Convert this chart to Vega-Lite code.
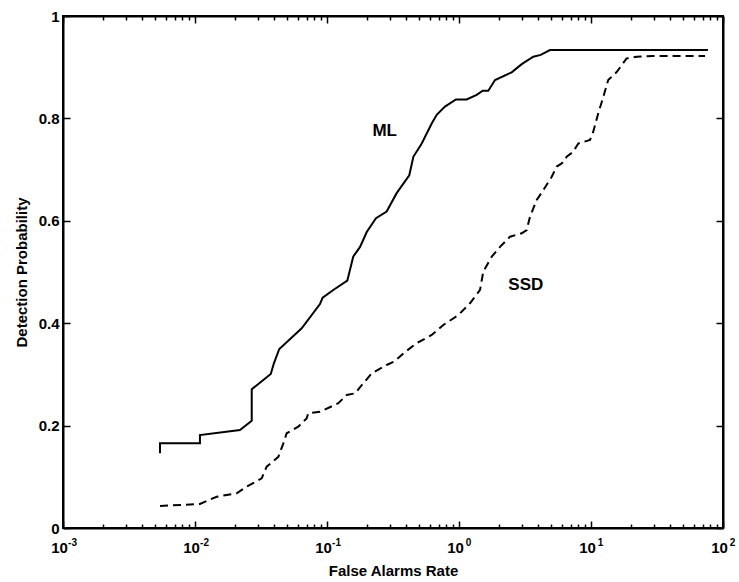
{
  "$schema": "https://vega.github.io/schema/vega-lite/v6.json",
  "width": 660,
  "height": 512,
  "autosize": {"type": "none"},
  "padding": {"left": 63, "top": 16, "right": 16, "bottom": 54},
  "background": "white",
  "config": {
    "view": {"stroke": "black", "strokeWidth": 2},
    "axis": {
      "grid": false,
      "domainColor": "black",
      "domainWidth": 2,
      "tickColor": "black",
      "tickWidth": 1.5,
      "labelColor": "black",
      "labelFont": "Liberation Sans, DejaVu Sans, sans-serif",
      "labelFontWeight": "bold",
      "labelFontSize": 15,
      "titleColor": "black",
      "titleFont": "Liberation Sans, DejaVu Sans, sans-serif",
      "titleFontWeight": "bold",
      "titleFontSize": 15,
      "labelOverlap": false,
      "labelFlush": false
    }
  },
  "data": {
    "values": [
      {"series": "ML", "i": 1, "x": 0.00543, "y": 0.146},
      {"series": "ML", "i": 2, "x": 0.00543, "y": 0.1654},
      {"series": "ML", "i": 3, "x": 0.0109, "y": 0.1654},
      {"series": "ML", "i": 4, "x": 0.0109, "y": 0.1816},
      {"series": "ML", "i": 5, "x": 0.0219, "y": 0.1914},
      {"series": "ML", "i": 6, "x": 0.0269, "y": 0.2096},
      {"series": "ML", "i": 7, "x": 0.0269, "y": 0.2709},
      {"series": "ML", "i": 8, "x": 0.0375, "y": 0.3008},
      {"series": "ML", "i": 9, "x": 0.0396, "y": 0.3217},
      {"series": "ML", "i": 10, "x": 0.0435, "y": 0.3496},
      {"series": "ML", "i": 11, "x": 0.0643, "y": 0.39},
      {"series": "ML", "i": 12, "x": 0.0885, "y": 0.4375},
      {"series": "ML", "i": 13, "x": 0.0927, "y": 0.4498},
      {"series": "ML", "i": 14, "x": 0.1116, "y": 0.4648},
      {"series": "ML", "i": 15, "x": 0.1425, "y": 0.483},
      {"series": "ML", "i": 16, "x": 0.158, "y": 0.53},
      {"series": "ML", "i": 17, "x": 0.178, "y": 0.549},
      {"series": "ML", "i": 18, "x": 0.2, "y": 0.578},
      {"series": "ML", "i": 19, "x": 0.235, "y": 0.605},
      {"series": "ML", "i": 20, "x": 0.283, "y": 0.618},
      {"series": "ML", "i": 21, "x": 0.337, "y": 0.654},
      {"series": "ML", "i": 22, "x": 0.42, "y": 0.689},
      {"series": "ML", "i": 23, "x": 0.451, "y": 0.725},
      {"series": "ML", "i": 24, "x": 0.522, "y": 0.751},
      {"series": "ML", "i": 25, "x": 0.621, "y": 0.79},
      {"series": "ML", "i": 26, "x": 0.678, "y": 0.807},
      {"series": "ML", "i": 27, "x": 0.783, "y": 0.823},
      {"series": "ML", "i": 28, "x": 0.948, "y": 0.837},
      {"series": "ML", "i": 29, "x": 1.143, "y": 0.837},
      {"series": "ML", "i": 30, "x": 1.361, "y": 0.846},
      {"series": "ML", "i": 31, "x": 1.513, "y": 0.854},
      {"series": "ML", "i": 32, "x": 1.667, "y": 0.854},
      {"series": "ML", "i": 33, "x": 1.874, "y": 0.875},
      {"series": "ML", "i": 34, "x": 2.506, "y": 0.89},
      {"series": "ML", "i": 35, "x": 2.986, "y": 0.906},
      {"series": "ML", "i": 36, "x": 3.655, "y": 0.9205},
      {"series": "ML", "i": 37, "x": 4.159, "y": 0.924},
      {"series": "ML", "i": 38, "x": 4.89, "y": 0.9336},
      {"series": "ML", "i": 39, "x": 76.9, "y": 0.9336},
      {"series": "SSD", "i": 1, "x": 0.00543, "y": 0.043},
      {"series": "SSD", "i": 2, "x": 0.0109, "y": 0.047},
      {"series": "SSD", "i": 3, "x": 0.0146, "y": 0.0611},
      {"series": "SSD", "i": 4, "x": 0.0207, "y": 0.0678},
      {"series": "SSD", "i": 5, "x": 0.0246, "y": 0.0807},
      {"series": "SSD", "i": 6, "x": 0.032, "y": 0.097},
      {"series": "SSD", "i": 7, "x": 0.0349, "y": 0.1197},
      {"series": "SSD", "i": 8, "x": 0.0428, "y": 0.139},
      {"series": "SSD", "i": 9, "x": 0.0467, "y": 0.1654},
      {"series": "SSD", "i": 10, "x": 0.0495, "y": 0.185},
      {"series": "SSD", "i": 11, "x": 0.0606, "y": 0.198},
      {"series": "SSD", "i": 12, "x": 0.0701, "y": 0.214},
      {"series": "SSD", "i": 13, "x": 0.0721, "y": 0.224},
      {"series": "SSD", "i": 14, "x": 0.0885, "y": 0.227},
      {"series": "SSD", "i": 15, "x": 0.1218, "y": 0.2436},
      {"series": "SSD", "i": 16, "x": 0.141, "y": 0.2598},
      {"series": "SSD", "i": 17, "x": 0.163, "y": 0.263},
      {"series": "SSD", "i": 18, "x": 0.1834, "y": 0.279},
      {"series": "SSD", "i": 19, "x": 0.2182, "y": 0.302},
      {"series": "SSD", "i": 20, "x": 0.283, "y": 0.3184},
      {"series": "SSD", "i": 21, "x": 0.327, "y": 0.326},
      {"series": "SSD", "i": 22, "x": 0.379, "y": 0.341},
      {"series": "SSD", "i": 23, "x": 0.478, "y": 0.361},
      {"series": "SSD", "i": 24, "x": 0.621, "y": 0.377},
      {"series": "SSD", "i": 25, "x": 0.76, "y": 0.3965},
      {"series": "SSD", "i": 26, "x": 0.989, "y": 0.416},
      {"series": "SSD", "i": 27, "x": 1.211, "y": 0.439},
      {"series": "SSD", "i": 28, "x": 1.443, "y": 0.465},
      {"series": "SSD", "i": 29, "x": 1.528, "y": 0.501},
      {"series": "SSD", "i": 30, "x": 1.77, "y": 0.53},
      {"series": "SSD", "i": 31, "x": 2.045, "y": 0.549},
      {"series": "SSD", "i": 32, "x": 2.434, "y": 0.569},
      {"series": "SSD", "i": 33, "x": 2.986, "y": 0.5756},
      {"series": "SSD", "i": 34, "x": 3.258, "y": 0.582},
      {"series": "SSD", "i": 35, "x": 3.451, "y": 0.608},
      {"series": "SSD", "i": 36, "x": 3.879, "y": 0.6406},
      {"series": "SSD", "i": 37, "x": 4.35, "y": 0.66},
      {"series": "SSD", "i": 38, "x": 5.04, "y": 0.686},
      {"series": "SSD", "i": 39, "x": 5.5, "y": 0.706},
      {"series": "SSD", "i": 40, "x": 6.0, "y": 0.712},
      {"series": "SSD", "i": 41, "x": 6.54, "y": 0.725},
      {"series": "SSD", "i": 42, "x": 7.34, "y": 0.735},
      {"series": "SSD", "i": 43, "x": 8.01, "y": 0.751},
      {"series": "SSD", "i": 44, "x": 8.75, "y": 0.754},
      {"series": "SSD", "i": 45, "x": 9.83, "y": 0.758},
      {"series": "SSD", "i": 46, "x": 10.4, "y": 0.774},
      {"series": "SSD", "i": 47, "x": 11.35, "y": 0.81},
      {"series": "SSD", "i": 48, "x": 12.4, "y": 0.842},
      {"series": "SSD", "i": 49, "x": 13.5, "y": 0.875},
      {"series": "SSD", "i": 50, "x": 15.7, "y": 0.891},
      {"series": "SSD", "i": 51, "x": 17.1, "y": 0.904},
      {"series": "SSD", "i": 52, "x": 18.6, "y": 0.917},
      {"series": "SSD", "i": 53, "x": 22.2, "y": 0.9205},
      {"series": "SSD", "i": 54, "x": 29.6, "y": 0.922},
      {"series": "SSD", "i": 55, "x": 73.1, "y": 0.922}
    ]
  },
  "layer": [
    {
      "transform": [{"filter": "datum.series === 'ML'"}],
      "mark": {"type": "line", "color": "black", "strokeWidth": 2},
      "encoding": {
        "x": {
          "field": "x", "type": "quantitative",
          "scale": {"type": "log", "domain": [0.001, 100], "nice": false},
          "axis": {
            "orient": "bottom",
            "title": "False Alarms Rate",
            "titleBaseline": "alphabetic",
            "titleY": 47,
            "values": [0.001,0.002,0.003,0.004,0.005,0.006,0.007,0.008,0.009,0.01,0.02,0.03,0.04,0.05,0.06,0.07,0.08,0.09,0.1,0.2,0.3,0.4,0.5,0.6,0.7,0.8,0.9,1,2,3,4,5,6,7,8,9,10,20,30,40,50,60,70,80,90,100],
            "tickSize": {"condition": {"test": "abs(log(datum.value)/LN10 - round(log(datum.value)/LN10)) < 0.001", "value": -7}, "value": -4},
            "labelExpr": "abs(log(datum.value)/LN10 - round(log(datum.value)/LN10)) < 0.001 ? '10' : ''",
            "labelAlign": "center",
            "labelBaseline": "alphabetic",
            "labelPadding": 31,
            "labelOffset": -4
          }
        },
        "y": {
          "field": "y", "type": "quantitative",
          "scale": {"domain": [0, 1], "nice": false},
          "axis": {
            "orient": "left",
            "title": "Detection Probability",
            "titleBaseline": "alphabetic",
            "titleX": -37,
            "values": [0, 0.2, 0.4, 0.6, 0.8, 1],
            "tickSize": -7,
            "labelPadding": 11,
            "labelExpr": "datum.value == 0 ? '0' : datum.value == 1 ? '1' : format(datum.value, '.1f')"
          }
        },
        "order": {"field": "i", "type": "quantitative"}
      }
    },
    {
      "transform": [{"filter": "datum.series === 'SSD'"}],
      "mark": {"type": "line", "color": "black", "strokeWidth": 2, "strokeDash": [8, 5]},
      "encoding": {
        "x": {
          "field": "x", "type": "quantitative",
          "scale": {"type": "log", "domain": [0.001, 100], "nice": false},
          "axis": {
            "orient": "top",
            "title": null,
            "labels": false,
            "values": [0.001,0.002,0.003,0.004,0.005,0.006,0.007,0.008,0.009,0.01,0.02,0.03,0.04,0.05,0.06,0.07,0.08,0.09,0.1,0.2,0.3,0.4,0.5,0.6,0.7,0.8,0.9,1,2,3,4,5,6,7,8,9,10,20,30,40,50,60,70,80,90,100],
            "tickSize": {"condition": {"test": "abs(log(datum.value)/LN10 - round(log(datum.value)/LN10)) < 0.001", "value": -7}, "value": -4}
          }
        },
        "y": {
          "field": "y", "type": "quantitative",
          "scale": {"domain": [0, 1], "nice": false},
          "axis": {
            "orient": "right",
            "title": null,
            "labels": false,
            "values": [0, 0.2, 0.4, 0.6, 0.8, 1],
            "tickSize": -7
          }
        },
        "order": {"field": "i", "type": "quantitative"}
      }
    },
    {
      "data": {"values": [
        {"label": "ML", "x": 0.2735, "y": 0.775},
        {"label": "SSD", "x": 3.21, "y": 0.475}
      ]},
      "mark": {"type": "text", "font": "Liberation Sans, DejaVu Sans, sans-serif", "fontWeight": "bold", "fontSize": 17, "color": "black", "align": "center", "baseline": "middle"},
      "encoding": {
        "x": {
          "field": "x", "type": "quantitative",
          "scale": {"type": "log", "domain": [0.001, 100], "nice": false},
          "axis": {
            "orient": "bottom",
            "title": null,
            "domain": false,
            "ticks": false,
            "tickSize": 0,
            "values": [0.001, 0.01, 0.1, 1, 10, 100],
            "labelExpr": "['-3','-2','-1','0','1','2'][round(log(datum.value)/LN10) + 3]",
            "labelFontSize": 10,
            "labelAlign": "center",
            "labelBaseline": "alphabetic",
            "labelPadding": 17,
            "labelOffset": 9
          }
        },
        "y": {"field": "y", "type": "quantitative", "scale": {"domain": [0, 1], "nice": false}, "axis": null},
        "text": {"field": "label"}
      }
    }
  ],
  "resolve": {"axis": {"x": "independent", "y": "independent"}}
}
